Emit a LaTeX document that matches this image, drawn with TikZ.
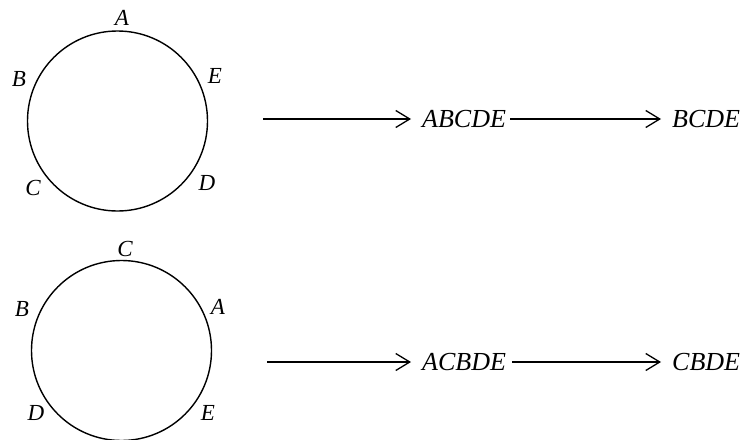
\documentclass[tikz,border=0pt]{standalone}
\usepackage{fontspec}
\setmainfont{Liberation Serif}
\usetikzlibrary{arrows.meta}
\begin{document}
\begin{tikzpicture}[x=1pt,y=-1pt,
  lbl/.style={font=\fontsize{23}{23}\selectfont\itshape, inner sep=0pt},
  seq/.style={font=\fontsize{26}{26}\selectfont\itshape, inner sep=0pt, anchor=west},
  ring/.style={draw, circle, line width=1.4pt, inner sep=0pt, minimum size=180pt},
  conn/.style={line width=1.1pt, shorten >=11pt, -{Straight Barb[length=14pt,width=17pt,line width=1.3pt]}}]
\useasboundingbox (0,0) rectangle (741,439);
% top circle
\node[ring] (c1) at (117.5,121) {};
\node[lbl] (a1) at (122,18) {A};
\node[lbl] (b1) at (19,79) {B};
\node[lbl] (e1) at (215,76) {E};
\node[lbl] (cc1) at (33,188) {C};
\node[lbl] (d1) at (207,183) {D};
% bottom circle
\node[ring] (c2) at (121.5,350.5) {};
\node[lbl] (c2l) at (125,249) {C};
\node[lbl] (b2) at (22,309) {B};
\node[lbl] (a2) at (218,307) {A};
\node[lbl] (d2) at (36,413) {D};
\node[lbl] (e2) at (208,413) {E};
% sequences
\coordinate (s1) at (263,119);
\node[seq] (n1) at (422,119) {ABCDE};
\node[seq] (n2) at (672,119) {BCDE};
\coordinate (s2) at (267,362);
\node[seq] (n3) at (422,362) {ACBDE};
\node[seq] (n4) at (672,362) {CBDE};
\draw[conn] (s1) -- (n1.west);
\draw[conn, shorten <=4pt] (n1.east) -- (n2.west);
\draw[conn] (s2) -- (n3.west);
\draw[conn, shorten <=6pt] (n3.east) -- (n4.west);
\end{tikzpicture}
\end{document}
